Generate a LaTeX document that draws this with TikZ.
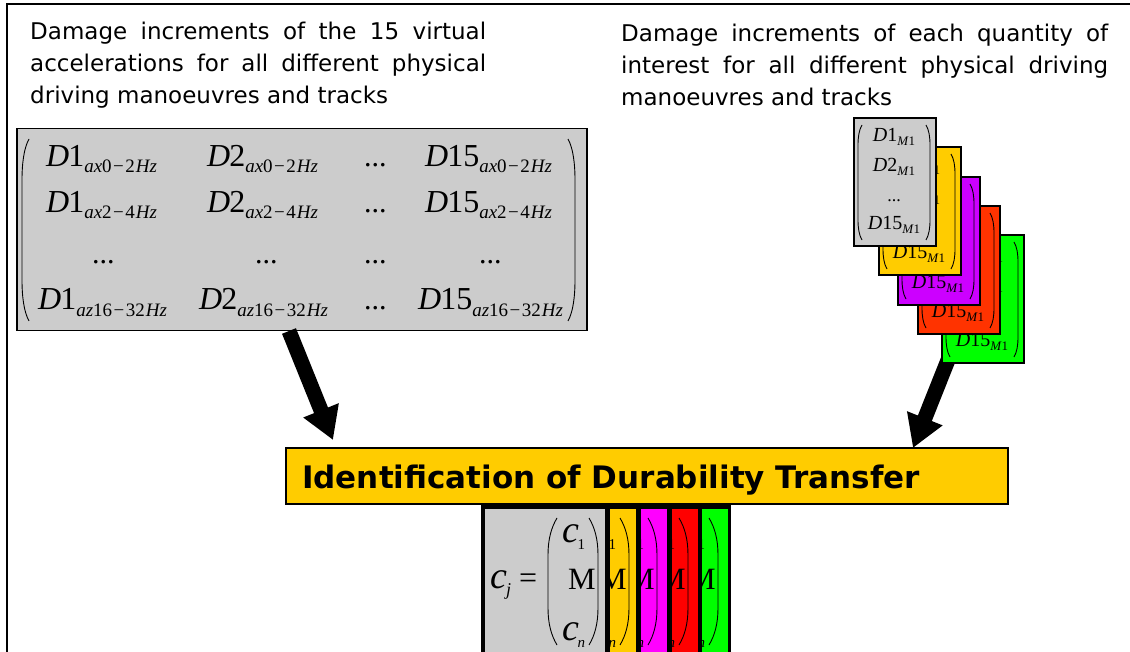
\documentclass[tikz,border=0pt]{standalone}
\usepackage{fontspec}
\setmainfont{DejaVu Sans}
\newfontfamily\tnr{Liberation Serif}
\usetikzlibrary{arrows.meta}
\definecolor{cgray}{HTML}{CCCCCC}
\definecolor{cyel}{HTML}{FFCC00}
\definecolor{cpur}{HTML}{CC00FF}
\definecolor{cred}{HTML}{FF3300}
\definecolor{cgrn}{HTML}{00FF00}
\definecolor{cmag}{HTML}{FF00FF}
\definecolor{cred2}{HTML}{FF0000}
\newcommand\fs[1]{\fontsize{#1}{#1}\selectfont}
\newcommand\BigD[2]{{\tnr\fs{32}\textit{D}\kern-1pt#1\raisebox{-6pt}{\fs{19}#2}}}
\newcommand\SmD[2]{{\tnr\fs{20}\textit{D}#1\raisebox{-4pt}{\fs{13}#2}}}
\newcommand\sbx[3]{\textit{#1}#2\kern1.5pt−\kern1.5pt#3\kern1pt\textit{Hz}}
\newcommand\mdots{{\tnr\fs{30}...}}
\tikzset{
  ent/.style={anchor=base west, inner sep=0pt},
  cent/.style={anchor=base, inner sep=0pt},
  bigarrow/.style={line width=15pt, -{Triangle[length=32pt,width=36pt]}},
  cardbox/.style={draw, line width=1.8pt, minimum width=82pt, minimum height=128pt, anchor=north west, inner sep=0pt},
  paren/.style={line width=0.9pt},
}
\newcommand\card[4]{%
  \node[cardbox, fill=#3] (#4) at (#1,#2) {};
  \begin{scope}[shift={(#1,#2)}]
    \draw[paren] (9,8) .. controls (6,13) and (5,20) .. (5,28) -- (5,103) .. controls (5,111) and (6,118) .. (9,123);
    \draw[paren] (73,8) .. controls (76,13) and (77,20) .. (77,28) -- (77,103) .. controls (77,111) and (76,118) .. (73,123);
    \node[cent] (#4a) at (41,25) {\SmD{1}{\textit{M}1}};
    \node[cent] (#4b) at (41,55) {\SmD{2}{\textit{M}1}};
    \node[cent] (#4c) at (41,85) {{\tnr\fs{18}...}};
    \node[cent] (#4d) at (41,113) {\SmD{15}{\textit{M}1}};
  \end{scope}}
\newcommand\cjc[2]{%
  \begin{scope}[xshift=#1]
    \node[ent] (ca#2) at (562,542) {\tnr\fs{38}\textit{c}\kern-1.5pt\raisebox{-7pt}{\fs{15}1}};
    \node[ent] (cb#2) at (568,589) {\tnr\fs{31}M};
    \node[ent] (cc#2) at (562,640) {\tnr\fs{38}\textit{c}\kern-1.5pt\raisebox{-7pt}{\fs{15}\textit{n}}};
    \draw[paren] (557,518) .. controls (551,528) and (548,540) .. (548,555) -- (548,608) .. controls (548,623) and (551,635) .. (557,645);
    \draw[paren] (589,518) .. controls (595,528) and (598,540) .. (598,555) -- (598,608) .. controls (598,623) and (595,635) .. (589,645);
  \end{scope}}
\begin{document}
\begin{tikzpicture}[x=1pt,y=-1pt]
\useasboundingbox (0,0) rectangle (1130,652);
\fill[white] (0,0) rectangle (1130,652);
% outer frame
\draw[line width=1.5pt] (1135,4) -- (7,4) -- (7,660);
% texts
\node[anchor=north west, inner sep=0pt, text width=456pt, align=justify, font={\fontsize{23}{32}\selectfont}] (ltext) at (30,22)
 {Damage increments of the 15 virtual\linebreak accelerations for all different physical\linebreak driving manoeuvres and tracks};
\node[anchor=north west, inner sep=0pt, text width=487pt, align=justify, font={\fontsize{23}{32}\selectfont}] (rtext) at (621,24)
 {Damage increments of each quantity of\linebreak interest for all different physical driving\linebreak manoeuvres and tracks};
% main matrix
\node[draw, line width=1.5pt, fill=cgray, minimum width=570pt, minimum height=202pt, anchor=north west, inner sep=0pt] (mbox) at (16,128) {};
\draw[paren] (29,139) .. controls (24,148) and (22,163) .. (22,180) -- (22,280) .. controls (22,297) and (24,312) .. (29,321);
\draw[paren] (568,139) .. controls (573,148) and (575,163) .. (575,180) -- (575,280) .. controls (575,297) and (573,312) .. (568,321);
\node[ent] (m11) at (46,167) {\BigD{1}{\sbx{ax}{0}{2}}};
\node[ent] (m12) at (207,167) {\BigD{2}{\sbx{ax}{0}{2}}};
\node[ent] (m13) at (364,167) {\mdots};
\node[ent] (m14) at (425,167) {\BigD{15}{\sbx{ax}{0}{2}}};
\node[ent] (m21) at (46,213) {\BigD{1}{\sbx{ax}{2}{4}}};
\node[ent] (m22) at (207,213) {\BigD{2}{\sbx{ax}{2}{4}}};
\node[ent] (m23) at (364,213) {\mdots};
\node[ent] (m24) at (425,213) {\BigD{15}{\sbx{ax}{2}{4}}};
\node[ent] (m31) at (92,264) {\mdots};
\node[ent] (m32) at (255,264) {\mdots};
\node[ent] (m33) at (364,264) {\mdots};
\node[ent] (m34) at (479,264) {\mdots};
\node[ent] (m41) at (38,310) {\BigD{1}{\sbx{az}{16}{32}}};
\node[ent] (m42) at (199,310) {\BigD{2}{\sbx{az}{16}{32}}};
\node[ent] (m43) at (364,310) {\mdots};
\node[ent] (m44) at (418,310) {\BigD{15}{\sbx{az}{16}{32}}};
% right arrow (under cards)
\coordinate (ra) at (952,350);
\coordinate (rt) at (913,448);
\draw[bigarrow] (ra) -- (rt);
% cards
\card{941}{234}{cgrn}{kg}
\card{917}{205}{cred}{kr}
\card{897}{176}{cpur}{kp}
\card{878}{146}{cyel}{ky}
\card{853}{117}{cgray}{kw}
% left arrow
\coordinate (la) at (289,331);
\coordinate (lt) at (333,440);
\draw[bigarrow] (la) -- (lt);
% title
\node[draw, line width=1.8pt, fill=cyel, minimum width=722pt, minimum height=56pt, anchor=north west, inner sep=0pt] (title) at (285,447) {};
\node[anchor=base west, inner sep=0pt, font=\bfseries\fs{31}] (ttext) at (302,488) {Identification of Durability Transfer};
% c_j block
\node[fill=black, minimum width=250pt, minimum height=160pt, anchor=north west, inner sep=0pt] (cjbox) at (481,503) {};
\fill[cgray] (485,509) rectangle (605,660);
\fill[cyel] (610,509) rectangle (636,660);
\fill[cmag] (641,509) rectangle (667,660);
\fill[cred2] (672,509) rectangle (698,660);
\fill[cgrn] (702,509) rectangle (728,660);
\begin{scope}\clip (485,509) rectangle (605,660); \cjc{0pt}{w}\end{scope}
\begin{scope}\clip (610,509) rectangle (636,660); \cjc{31pt}{y}\end{scope}
\begin{scope}\clip (641,509) rectangle (667,660); \cjc{59pt}{m}\end{scope}
\begin{scope}\clip (672,509) rectangle (698,660); \cjc{90pt}{r}\end{scope}
\begin{scope}\clip (702,509) rectangle (728,660); \cjc{120pt}{g}\end{scope}
\node[ent] (cj) at (490,588) {\tnr\fs{38}\textit{c}\kern-1pt\raisebox{-7pt}{\fs{18}\textit{j}}};
\node[ent] (eq) at (519,588) {\tnr\fs{32}=};
\end{tikzpicture}
\end{document}
